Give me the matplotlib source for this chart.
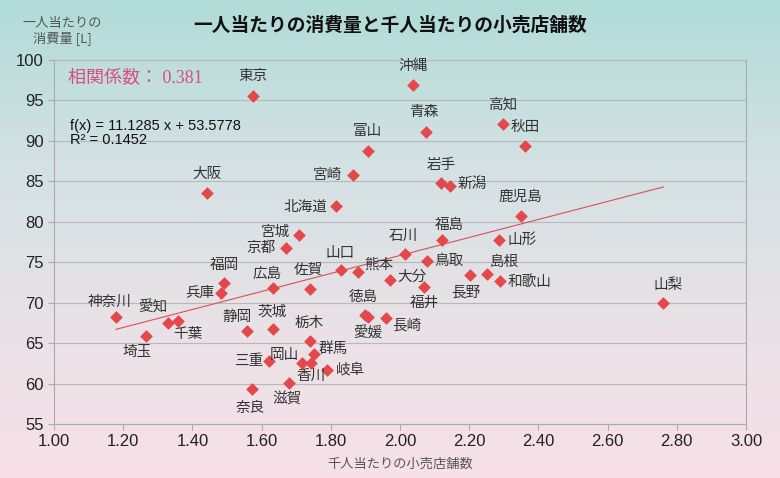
import numpy as np
import matplotlib.pyplot as plt
from matplotlib.colors import LinearSegmentedColormap

# prefecture data: stores per 1000 people (x), consumption per person (y)
names = ['北海道', '青森', '岩手', '宮城', '秋田', '山形', '福島', '茨城', '栃木', '群馬',
         '埼玉', '千葉', '東京', '神奈川', '新潟', '富山', '石川', '福井', '山梨', '長野',
         '岐阜', '静岡', '愛知', '三重', '滋賀', '京都', '大阪', '兵庫', '奈良', '和歌山',
         '鳥取', '島根', '岡山', '広島', '山口', '徳島', '香川', '愛媛', '高知', '福岡',
         '佐賀', '長崎', '熊本', '大分', '宮崎', '鹿児島', '沖縄']
stores = [1.815, 2.074, 2.118, 1.709, 2.361, 2.286, 2.120, 1.632, 1.740, 1.751,
          1.266, 1.359, 1.574, 1.179, 2.145, 1.907, 2.014, 2.070, 2.761, 2.202,
          1.790, 1.559, 1.329, 1.622, 1.678, 1.672, 1.441, 1.482, 1.573, 2.289,
          2.077, 2.252, 1.716, 1.632, 1.829, 1.900, 1.742, 1.908, 2.297, 1.491,
          1.740, 1.959, 1.880, 1.971, 1.863, 2.349, 2.037]
consumption = [81.9, 91.1, 84.8, 78.4, 89.4, 77.8, 77.8, 66.7, 65.3, 63.7,
               65.9, 67.7, 95.6, 68.2, 84.4, 88.8, 76.0, 71.9, 69.9, 73.4,
               61.7, 66.5, 67.5, 62.8, 60.1, 76.7, 83.6, 71.2, 59.3, 72.7,
               75.1, 73.6, 62.5, 71.8, 74.0, 68.5, 62.5, 68.2, 92.1, 72.4,
               71.7, 68.1, 73.8, 72.8, 85.8, 80.7, 96.9]

slope, intercept, r2, corr = 11.1285, 53.5778, 0.1452, 0.381

# label offsets in pixels (label centre relative to the point)
offsets = {
    '東京': (0, 20), '沖縄': (0, 19), '青森': (-2, 20), '高知': (0, 19), '秋田': (0, 19),
    '富山': (0, 20), '宮崎': (-25, 0), '大阪': (0, 19), '北海道': (-31, 0), '宮城': (-24, 3),
    '京都': (-25, 1), '山口': (-1, 17), '熊本': (20, 7), '福岡': (0, 18), '兵庫': (-21, 0),
    '広島': (-6, 14), '佐賀': (-2, 19), '神奈川': (-6, 15), '愛知': (-15, 15), '千葉': (10, -13),
    '埼玉': (-9, -16), '静岡': (-10, 14), '茨城': (-1, 18), '栃木': (-1, 18), '群馬': (19, 5),
    '三重': (-21, 0), '岡山': (-17, 8), '香川': (0, -13), '岐阜': (23, 0), '滋賀': (-2, -16),
    '奈良': (-2, -19), '徳島': (-2, 18), '愛媛': (0, -16), '長崎': (21, -8), '大分': (22, 3),
    '福井': (0, -16), '石川': (-2, 18), '福島': (8, 15), '岩手': (0, 18), '新潟': (22, 1),
    '鳥取': (22, 0), '長野': (-4, -17), '島根': (17, 12), '和歌山': (30, -1), '山形': (23, 0),
    '鹿児島': (0, 19), '山梨': (5, 18),
}

plt.rcParams['font.family'] = ['Liberation Sans', 'Noto Sans CJK JP', 'DejaVu Sans']
jp = ['Noto Sans CJK JP', 'DejaVu Sans']

fig = plt.figure(figsize=(7.8, 4.78), dpi=100)

# background gradient
bg = fig.add_axes([0, 0, 1, 1], zorder=-10)
cmap = LinearSegmentedColormap.from_list('bg', ['#b0dcd8', '#d3e1e3', '#e8e2e6', '#f8e0e8'])
bg.imshow(np.linspace(0, 1, 256).reshape(-1, 1), aspect='auto', cmap=cmap,
          extent=[0, 1, 0, 1])
bg.axis('off')

ax = fig.add_axes([0.0692, 0.113, 0.8872, 0.7615])
ax.set_facecolor('none')

ax.scatter(stores, consumption, marker='D', s=42, color='#e5484a', zorder=3, linewidths=0)

xs = np.array([min(stores), max(stores)])
ax.plot(xs, slope * xs + intercept, color='#d9505a', lw=0.8, zorder=2)

for n, x, y in zip(names, stores, consumption):
    dx, dy = offsets[n]
    ax.annotate(n, (x, y), xytext=(dx, dy), textcoords='offset pixels',
                ha='center', va='center', fontsize=10.5, color='#333333', family=jp)

ax.set_xlim(1.0, 3.0)
ax.set_ylim(55, 100)
ax.set_xticks(np.arange(1.0, 3.01, 0.2))
ax.set_xticklabels([f'{v:.2f}' for v in np.arange(1.0, 3.01, 0.2)])
ax.set_yticks(range(55, 101, 5))
ax.grid(axis='y', color='#b8b8b8', lw=0.8)
ax.set_axisbelow(True)
for s in ['left', 'bottom', 'right']:
    ax.spines[s].set_color('#aaaaaa')
    ax.spines[s].set_linewidth(0.8)
ax.spines['top'].set_visible(False)
ax.tick_params(axis='both', colors='#aaaaaa', length=4, width=0.8, labelsize=12,
               labelcolor='#222222')

fig.text(0.5, 0.947, '一人当たりの消費量と千人当たりの小売店舗数', ha='center', va='center',
         fontsize=13.5, fontweight='bold', family=jp, color='#111111')
fig.text(0.08, 0.935, '一人当たりの\n消費量 [L]', ha='center', va='center', fontsize=9.5,
         family=jp, color='#555555', linespacing=1.1)
ax.set_xlabel('千人当たりの小売店舗数', fontsize=9.5, family=jp, color='#555555', labelpad=6)

ax.text(0.02, 0.95, f'相関係数： {corr}', transform=ax.transAxes, ha='left', va='center',
        fontsize=13, color='#d4507f', family=['Liberation Serif', 'Noto Sans CJK JP'])
ax.text(0.023, 0.80, f'f(x) = {slope} x + {intercept}\nR² = {r2}', transform=ax.transAxes,
        ha='left', va='center', fontsize=10.5, color='#111111', linespacing=1.0)

fig.savefig('out.png', dpi=100)
